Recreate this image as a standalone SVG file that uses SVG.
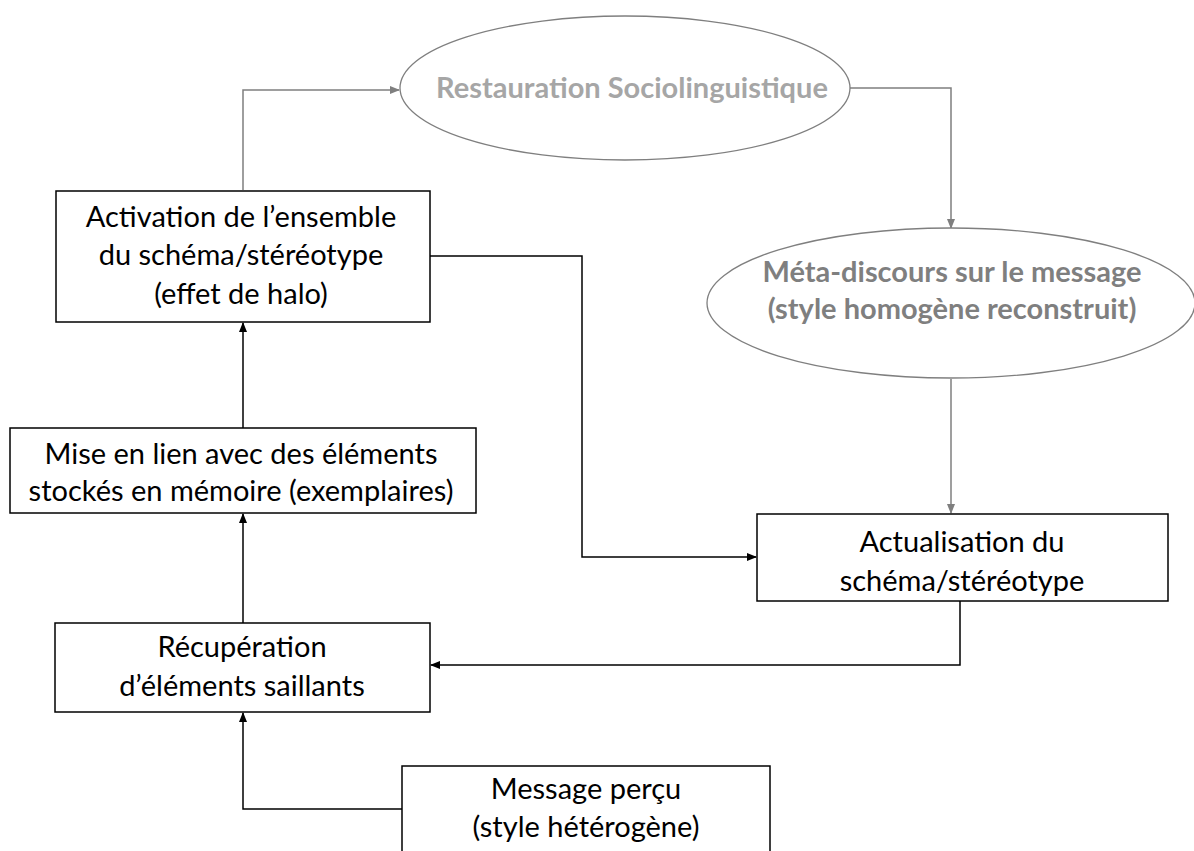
<svg xmlns="http://www.w3.org/2000/svg" width="1194" height="851" viewBox="0 0 1194 851">
<style>
.box{fill:#fff;stroke:#000;stroke-width:1.5}
.ell{fill:#fff;stroke:#7f7f7f;stroke-width:1.3}
.t{font-family:Lato,"Open Sans",sans-serif;font-size:29px;fill:#000;text-anchor:middle}
.g{font-family:Lato,"Open Sans",sans-serif;font-size:29px;font-weight:bold;text-anchor:middle}
.k{fill:none;stroke:#000;stroke-width:1.5}
.gr{fill:none;stroke:#7f7f7f;stroke-width:1.5}
</style>
<defs>
<marker id="ab" markerWidth="10" markerHeight="8" refX="9" refY="4" orient="auto" markerUnits="userSpaceOnUse"><path d="M0,0L10,4L0,8z" fill="#000"/></marker>
<marker id="ag" markerWidth="10" markerHeight="8" refX="9" refY="4" orient="auto" markerUnits="userSpaceOnUse"><path d="M0,0L10,4L0,8z" fill="#7f7f7f"/></marker>
</defs>
<rect width="1194" height="851" fill="#fff"/>
<g id="connectors">
<path class="gr" d="M243,190V90H399" marker-end="url(#ag)"/>
<path class="gr" d="M850,88H951V228" marker-end="url(#ag)"/>
<path class="gr" d="M951,379V513" marker-end="url(#ag)"/>
<path class="k" d="M430,256H582V557H756" marker-end="url(#ab)"/>
<path class="k" d="M960,601V665H431" marker-end="url(#ab)"/>
<path class="k" d="M243,428V323" marker-end="url(#ab)"/>
<path class="k" d="M243,623V514" marker-end="url(#ab)"/>
<path class="k" d="M402,809H243V713" marker-end="url(#ab)"/>
</g>
<g id="n-restauration">
<ellipse class="ell" cx="625" cy="88" rx="225" ry="72"/>
<text class="g" x="632" y="98" fill="#a6a6a6">Restauration Sociolinguistique</text>
</g>
<g id="n-meta">
<ellipse class="ell" cx="951" cy="303" rx="244" ry="75"/>
<text class="g" x="952" y="282" fill="#7f7f7f">Méta-discours sur le message</text>
<text class="g" x="952" y="319" fill="#7f7f7f">(style homogène reconstruit)</text>
</g>
<g id="n-activation">
<rect class="box" x="56" y="191" width="374" height="131"/>
<text class="t" x="241" y="227">Activation de l’ensemble</text>
<text class="t" x="241" y="265">du schéma/stéréotype</text>
<text class="t" x="241" y="304">(effet de halo)</text>
</g>
<g id="n-mise">
<rect class="box" x="10" y="428" width="466" height="85"/>
<text class="t" x="241" y="464">Mise en lien avec des éléments</text>
<text class="t" x="241" y="501">stockés en mémoire (exemplaires)</text>
</g>
<g id="n-actualisation">
<rect class="box" x="757" y="514" width="411" height="87"/>
<text class="t" x="962" y="552">Actualisation du</text>
<text class="t" x="962" y="591">schéma/stéréotype</text>
</g>
<g id="n-recuperation">
<rect class="box" x="55" y="623" width="375" height="89"/>
<text class="t" x="242" y="657">Récupération</text>
<text class="t" x="242" y="696">d’éléments saillants</text>
</g>
<g id="n-message">
<rect class="box" x="402" y="766" width="368" height="100"/>
<text class="t" x="586" y="799">Message perçu</text>
<text class="t" x="586" y="837">(style hétérogène)</text>
</g>
</svg>
